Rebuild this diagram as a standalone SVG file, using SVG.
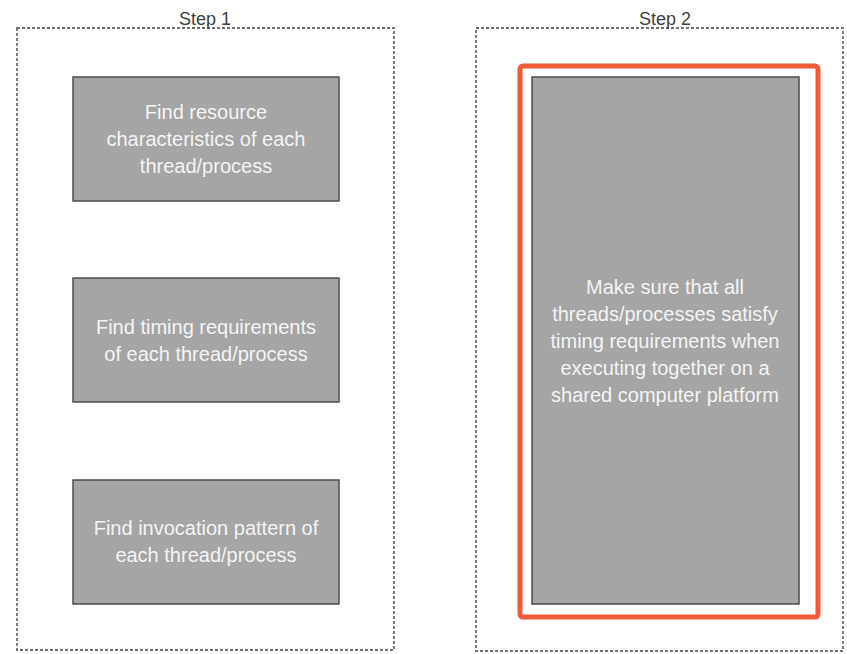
<svg xmlns="http://www.w3.org/2000/svg" width="847" height="654" viewBox="0 0 847 654">
<style>
.frame{fill:none;stroke:#6f6f6f;stroke-width:1.8;stroke-dasharray:3 2}
.box{fill:#a5a5a5;stroke:#4d4d4d;stroke-width:1.5}
.t{font-family:"Liberation Sans",Arial,sans-serif;font-size:20px;fill:#f4f4f4;text-anchor:middle}
.lbl{font-family:"Liberation Sans",Arial,sans-serif;font-size:18px;fill:#404040;text-anchor:middle}
.hl{fill:none;stroke:#ef5b38;stroke-width:5}
</style>
<rect width="847" height="654" fill="#ffffff"/>
<g id="step1">
<rect class="frame" x="17" y="28" width="377" height="622"/>
<text class="lbl" x="205" y="25">Step 1</text>
</g>
<g id="step2">
<rect class="frame" x="476" y="28" width="367" height="623"/>
<text class="lbl" x="665" y="25">Step 2</text>
</g>
<g id="node1">
<rect class="box" x="73" y="77" width="266" height="124"/>
<text class="t" x="206" y="119">Find resource</text>
<text class="t" x="206" y="146">characteristics of each</text>
<text class="t" x="206" y="173">thread/process</text>
</g>
<g id="node2">
<rect class="box" x="73" y="278" width="266" height="124"/>
<text class="t" x="206" y="334">Find timing requirements</text>
<text class="t" x="206" y="361">of each thread/process</text>
</g>
<g id="node3">
<rect class="box" x="73" y="480" width="266" height="124"/>
<text class="t" x="206" y="535">Find invocation pattern of</text>
<text class="t" x="206" y="562">each thread/process</text>
</g>
<g id="node4">
<rect class="hl" x="520" y="66" width="298" height="551" rx="3"/>
<rect class="box" x="532" y="77" width="267" height="527"/>
<text class="t" x="665" y="294">Make sure that all</text>
<text class="t" x="665" y="321">threads/processes satisfy</text>
<text class="t" x="665" y="348">timing requirements when</text>
<text class="t" x="665" y="375">executing together on a</text>
<text class="t" x="665" y="402">shared computer platform</text>
</g>
<g id="connectors"></g>
</svg>
